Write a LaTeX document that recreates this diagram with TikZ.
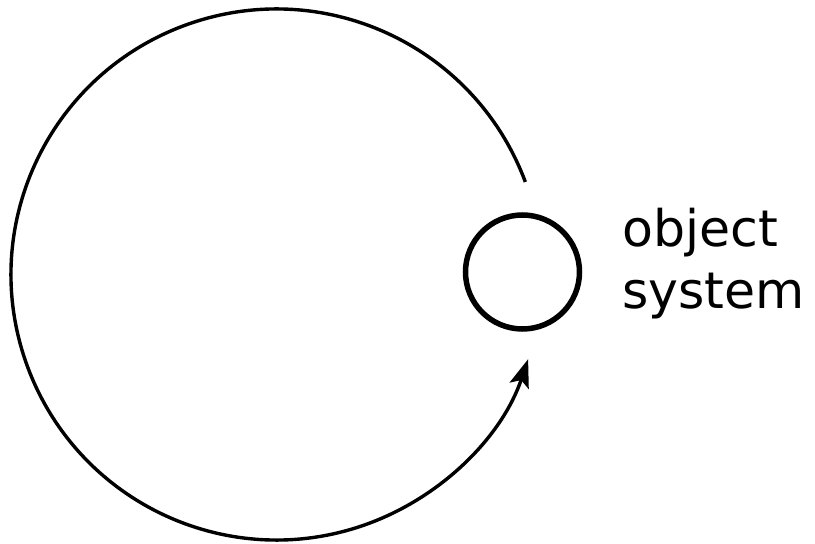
\documentclass[tikz,border=0pt]{standalone}
\usepackage{fontspec}
\setmainfont{DejaVu Sans}
\usetikzlibrary{arrows.meta,calc}
\begin{document}
\begin{tikzpicture}[x=1pt,y=1pt,
  loopline/.style={line width=3.4pt},
  objcircle/.style={circle,draw,line width=5.5pt,minimum size=114pt,inner sep=0pt},
  label/.style={inner sep=0pt,anchor=base west,font=\fontsize{50.5}{60}\selectfont}]
\useasboundingbox (0,0) rectangle (815,544);
\node[objcircle] (obj) at (522.5,272) {};
\coordinate (c) at (276.5,269.5);
\draw[loopline,-{Stealth[length=28pt,width=20pt,inset=6pt]}] ($(c)+(20.4:265.5)$) arc[start angle=20.4,end angle=341.4,radius=265.5];
\node[label] (t1) at (622,297) {object};
\node[label] (t2) at (622,235) {system};
\end{tikzpicture}
\end{document}
